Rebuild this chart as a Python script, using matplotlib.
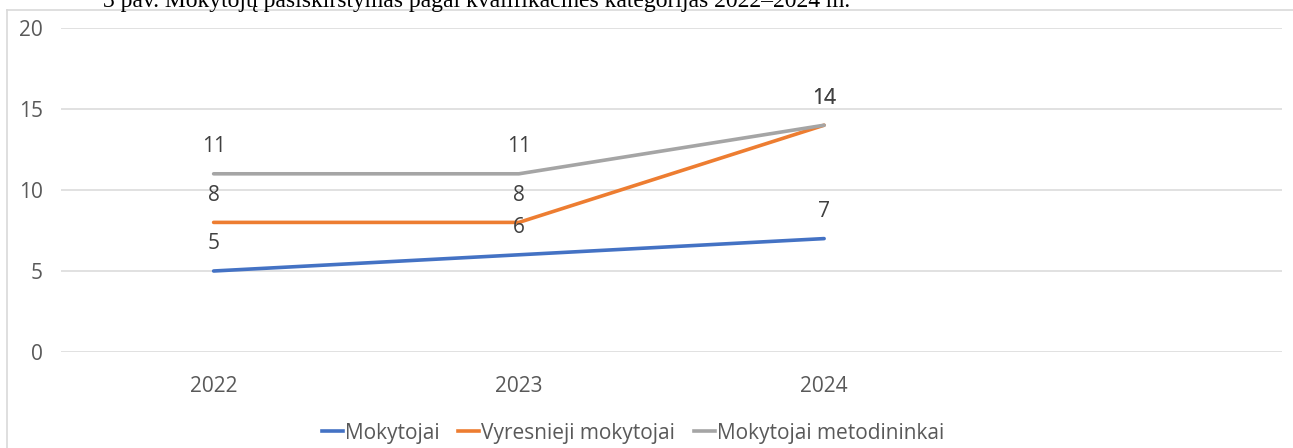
import numpy as np
import matplotlib.pyplot as plt
from matplotlib.lines import Line2D

# Data
years = ['2022', '2023', '2024']
mokytojai = [5, 6, 7]
vyresnieji = [8, 8, 14]
metodininkai = [11, 11, 14]
series_names = ['Mokytojai', 'Vyresnieji mokytojai', 'Mokytojai metodininkai']
colors = ['#4472C4', '#ED7D31', '#A5A5A5']

plt.rcParams['font.family'] = ['Open Sans', 'DejaVu Sans']

W, H = 1293, 448
fig = plt.figure(figsize=(W / 100, H / 100), dpi=100)
ax = fig.add_axes([61 / W, 96 / H, (1282 - 61) / W, (352 - 28) / H])

x = np.arange(len(years))
for vals, name, c in zip([mokytojai, vyresnieji, metodininkai], series_names, colors):
    ax.plot(x, vals, color=c, lw=2.6, solid_capstyle='round', label=name, zorder=3)
    for xi, v in zip(x, vals):
        ax.annotate(str(v), (xi, v), xytext=(0, 19.5), textcoords='offset points',
                    ha='center', va='center', fontsize=15, color='#404040', zorder=4)

# one empty category slot after 2024
ax.set_xlim(-0.5, 3.5)
ax.set_ylim(0, 20)
ax.set_yticks(np.arange(0, 21, 5))
ax.set_xticks(x)
ax.set_xticklabels(years)
ax.grid(axis='y', color='#D9D9D9', lw=1.1)
ax.set_axisbelow(True)
for s in ax.spines.values():
    s.set_visible(False)
ax.tick_params(axis='both', length=0, labelsize=15, labelcolor='#595959')
ax.tick_params(axis='y', pad=13)
ax.tick_params(axis='x', pad=17)

handles = [Line2D([], [], color=c, lw=2.6) for c in colors]
fig.legend(handles, series_names, loc='center', bbox_to_anchor=(633 / W, 1 - 433 / H),
           ncol=3, frameon=False, fontsize=15, handlelength=1.0, handletextpad=0.1,
           columnspacing=0.9, labelcolor='#595959')

# chart border (left and top only visible)
fig.add_artist(Line2D([7 / W, 7 / W], [0, 1 - 10 / H], color='#D9D9D9', lw=1.2))
fig.add_artist(Line2D([7 / W, 1], [1 - 10 / H, 1 - 10 / H], color='#D9D9D9', lw=1.2))

# caption text, cut off at the top of the picture as in the source
fig.text(103 / W, 1 - 7 / H, '3 pav. Mokytojų pasiskirstymas pagal kvalifikacines kategorijas 2022–2024 m.',
         family='Liberation Serif', fontsize=17, color='black', ha='left', va='baseline')

fig.savefig('out.png', dpi=100)
